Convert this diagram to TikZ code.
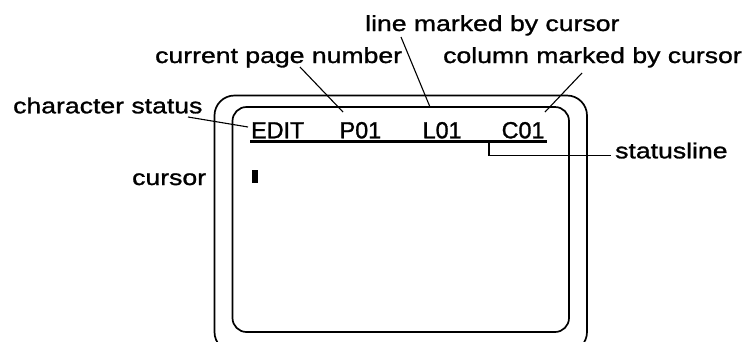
\documentclass[tikz,border=0pt]{standalone}
\usepackage{fontspec}
\setmainfont{Liberation Sans}
\newfontfamily\lblfont[FakeStretch=1.22,FakeBold=1.2]{Liberation Sans}
\newfontfamily\statfont[FakeBold=1.2]{Liberation Sans}
\begin{document}
\begin{tikzpicture}[x=1pt,y=-1pt,
  lbl/.style={inner sep=0pt,anchor=base west,font=\lblfont\fontsize{21.8}{24}\selectfont},
  stat/.style={inner sep=0pt,anchor=base west,font=\statfont\fontsize{23.3}{26}\selectfont},
  leader/.style={draw=black,line width=1.1pt},
  frame/.style={draw=black,line width=1.7pt}]
\useasboundingbox (0,0) rectangle (745,341);
\clip (0,0) rectangle (745,341);
% screen
\draw[frame,rounded corners=20pt] (214.5,95.5) rectangle (587,352);
\draw[frame,rounded corners=14pt] (232.5,107) rectangle (569,332);
% status line texts
\node[stat] (edit) at (251,138.3) {EDIT};
\node[stat] (p01) at (339.5,138.3) {P01};
\node[stat] (l01) at (422.5,138.3) {L01};
\node[stat] (c01) at (501.5,138.3) {C01};
\coordinate (ulA) at (250,141.8);
\coordinate (ulB) at (547,141.8);
\draw[line width=3pt] (ulA) -- (ulB);
% cursor block
\node[fill=black,inner sep=0pt,minimum width=5.5pt,minimum height=13.5pt,anchor=north west] (cur) at (251.8,169.5) {};
% labels
\node[lbl] (lline) at (365,31) {line marked by cursor};
\node[lbl] (lpage) at (155,63) {current page number};
\node[lbl] (lcol) at (443,63) {column marked by cursor};
\node[lbl] (lchar) at (13,113.3) {character status};
\node[lbl] (lcur) at (132,185) {cursor};
\node[lbl] (lstat) at (615,158.3) {statusline};
% leader coordinates
\coordinate (cs1) at (188,117);
\coordinate (cs2) at (248,127);
\coordinate (pg1) at (300,67);
\coordinate (pg2) at (343,112);
\coordinate (ln1) at (401,37);
\coordinate (ln2) at (430,107);
\coordinate (cl1) at (582,73);
\coordinate (cl2) at (545,112);
\coordinate (st1) at (489,142);
\coordinate (st2) at (489,155.5);
\coordinate (st3) at (611,155.5);
\draw[leader] (cs1) -- (cs2);
\draw[leader] (pg1) -- (pg2);
\draw[leader] (ln1) -- (ln2);
\draw[leader] (cl1) -- (cl2);
\draw[leader] (st1) -- (st2) -- (st3);
\end{tikzpicture}
\end{document}
